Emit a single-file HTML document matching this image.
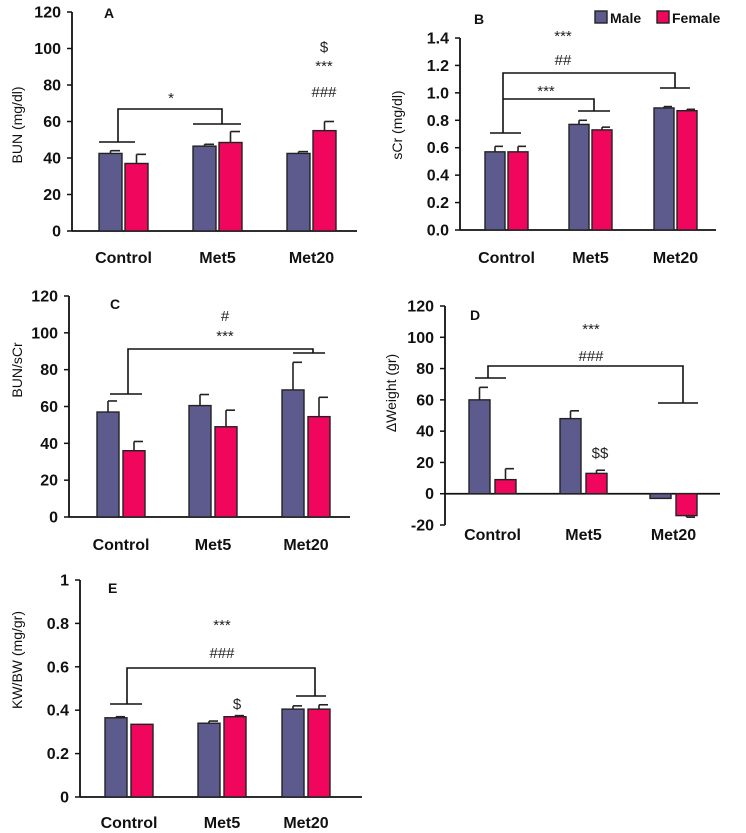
<!DOCTYPE html>
<html><head><meta charset="utf-8"><style>
body{margin:0;background:#fff;}
svg{display:block;font-family:"Liberation Sans",Arial,sans-serif;}
.tk{font-size:16px;font-weight:bold;fill:#111;}
.cat{font-size:16px;font-weight:bold;fill:#111;}
.yt{font-size:14px;fill:#111;}
.pl{font-size:14px;font-weight:bold;fill:#111;}
.an{font-size:15px;fill:#222;}
</style></head><body>
<svg id="fig" width="746" height="833" viewBox="0 0 746 833"></svg>
<script>
const categories=["Control","Met5","Met20"];
const bunMale=[42.5,46.5,42.5], bunMaleErr=[1.5,1,1];
const bunFemale=[37,48.5,55], bunFemaleErr=[5,6,5];
const scrMale=[0.57,0.77,0.89], scrMaleErr=[0.04,0.03,0.01];
const scrFemale=[0.57,0.73,0.87], scrFemaleErr=[0.04,0.02,0.01];
const ratioMale=[57,60.5,69], ratioMaleErr=[6,6,15];
const ratioFemale=[36,49,54.5], ratioFemaleErr=[5,9,10.5];
const wtMale=[60,48,-3], wtMaleErr=[8,5,0];
const wtFemale=[9,13,-14], wtFemaleErr=[7,2,1];
const kwMale=[0.365,0.34,0.405], kwMaleErr=[0.005,0.01,0.015];
const kwFemale=[0.335,0.37,0.405], kwFemaleErr=[0,0.005,0.02];
const ticksA=["0","20","40","60","80","100","120"];
const ticksB=["0.0","0.2","0.4","0.6","0.8","1.0","1.2","1.4"];
const ticksD=["-20","0","20","40","60","80","100","120"];
const ticksE=["0","0.2","0.4","0.6","0.8","1"];

const NS="http://www.w3.org/2000/svg";
const svg=document.getElementById('fig');
function mk(tag,attrs,parent,text){const e=document.createElementNS(NS,tag);for(const k in attrs)e.setAttribute(k,attrs[k]);if(text!==undefined)e.textContent=text;(parent||svg).appendChild(e);return e;}

function panel(p){
  const g=mk('g',{});
  
  
  const y=v=>p.y0-(v-p.vmin)/(p.vmax-p.vmin)*(p.y0-p.y1);
  p.ticks.forEach(t=>{const v=parseFloat(t);const yy=y(v);
    mk('line',{x1:p.ax-5,x2:p.ax,y1:yy,y2:yy,stroke:'#111','stroke-width':1.5},g);
    const tx=mk('text',{x:p.ax-11,y:yy+5.5,'text-anchor':'end',class:'tk'},g,t);
    
    
  });
  const base=y(p.base);
  const xa=mk('line',{x1:p.ax,x2:p.xend,y1:base,y2:base,stroke:'#111','stroke-width':1.8},g);
  
  
  const ya=mk('line',{x1:p.ax,x2:p.ax,y1:y(p.vmin),y2:y(p.vmax),stroke:'#111','stroke-width':1.8},g);
  
  
  const series=[[p.m,p.me,'#5d5b8e','male'],[p.f,p.fe,'#f0065c','female']];
  categories.forEach((c,i)=>{
    series.forEach((s,j)=>{
      const x=p.bx[i]+j*(p.bw+p.gap);
      const v=s[0][i], e=s[1][i];
      const top=Math.min(y(v),base), h=Math.abs(y(v)-base);
      const r=mk('rect',{x:x,y:top,width:p.bw,height:Math.max(h,1),fill:s[2],stroke:'#222','stroke-width':1.4},g);
      
      
      if(e>0){const ey=v>=0?y(v+e):y(v-e);const cx=x+p.bw/2;
        mk('line',{x1:cx,x2:cx,y1:y(v),y2:ey,stroke:'#222','stroke-width':1.6},g);
        mk('line',{x1:cx,x2:cx+p.bw/2-2,y1:ey,y2:ey,stroke:'#222','stroke-width':1.6},g);}
    });
    const lt=mk('text',{x:p.bx[i]+p.bw+p.gap/2,y:p.ly,'text-anchor':'middle',class:'cat'},g,c);
    
    
  });
  const t=mk('text',{x:p.tx,y:p.ty,'text-anchor':'middle',class:'yt',transform:`rotate(-90 ${p.tx} ${p.ty})`},g,p.title);
  
  
  const l=mk('text',{x:p.lx,y:p.lyy,class:'pl'},g,p.letter);
  
  
  (p.paths||[]).forEach(d=>{const pa=mk('path',{d:d,fill:'none',stroke:'#111','stroke-width':1.6},g);
    
    });
  (p.notes||[]).forEach(n=>{const a=mk('text',{x:n[0],y:n[1],'text-anchor':'middle',class:'an','font-size':n[3]||15},g,n[2]);
    
    });
}

panel({name:'panel-a-bun',letter:'A',lx:104,lyy:18,title:'BUN (mg/dl)',tx:22,ty:125,ticks:ticksA,vmin:0,vmax:120,base:0,y0:231,y1:12,ax:72,xend:357,
  bx:[99,193,287],bw:23,gap:3,ly:263,m:bunMale,me:bunMaleErr,f:bunFemale,fe:bunFemaleErr,
  paths:['M99 142H135M118 142V109H222V124M193 124H241'],
  notes:[[171,103,'*'],[324,52,'$',17],[324,71,'***'],[324,97,'###']]});
panel({name:'panel-b-scr',letter:'B',lx:474,lyy:24,title:'sCr (mg/dl)',tx:402,ty:125,ticks:ticksB,vmin:0,vmax:1.4,base:0,y0:230,y1:38,ax:460,xend:716,
  bx:[485,569,654],bw:20,gap:3,ly:263,m:scrMale,me:scrMaleErr,f:scrFemale,fe:scrFemaleErr,
  paths:['M490 133H521M503 133V73H675V88M660 88H690M503 99H594V111M578 111H610'],
  notes:[[563,41,'***'],[563,65,'##'],[546,96,'***']]});
panel({name:'panel-c-bun-scr',letter:'C',lx:110,lyy:309,title:'BUN/sCr',tx:22,ty:370,ticks:ticksA,vmin:0,vmax:120,base:0,y0:517,y1:296,ax:69,xend:350,
  bx:[97,189,282],bw:22,gap:4,ly:550,m:ratioMale,me:ratioMaleErr,f:ratioFemale,fe:ratioFemaleErr,
  paths:['M110 394H142M128 394V349H313V353M293 353H325'],
  notes:[[225,321,'#',16],[225,341,'***']]});
panel({name:'panel-d-weight',letter:'D',lx:470,lyy:320,title:'ΔWeight (gr)',tx:396,ty:393,ticks:ticksD,vmin:-20,vmax:120,base:0,y0:525,y1:306,ax:445,xend:720,
  bx:[469,560,650],bw:21,gap:5,ly:540,m:wtMale,me:wtMaleErr,f:wtFemale,fe:wtFemaleErr,
  paths:['M475 378H506M488 378V366H683V403M658 403H698'],
  notes:[[591,334,'***'],[591,361,'###'],[600,458,'$$',17]]});
panel({name:'panel-e-kw-bw',letter:'E',lx:108,lyy:593,title:'KW/BW (mg/gr)',tx:22,ty:660,ticks:ticksE,vmin:0,vmax:1,base:0,y0:797,y1:580,ax:80,xend:362,
  bx:[105,198,282],bw:22,gap:4,ly:828,m:kwMale,me:kwMaleErr,f:kwFemale,fe:kwFemaleErr,
  paths:['M110 704H142M127 704V668H315V696M296 696H326'],
  notes:[[222,630,'***'],[222,658,'###'],[237,709,'$',17]]});

const lg=mk('g',{});


mk('rect',{x:595,y:11,width:12,height:12,fill:'#5d5b8e',stroke:'#222','stroke-width':1.4},lg);
const lm=mk('text',{x:610,y:23,class:'pl','font-size':16},lg,'Male');


mk('rect',{x:657,y:11,width:12,height:12,fill:'#f0065c',stroke:'#222','stroke-width':1.4},lg);
const lf=mk('text',{x:672,y:23,class:'pl','font-size':16},lg,'Female');


</script>
</body></html>
